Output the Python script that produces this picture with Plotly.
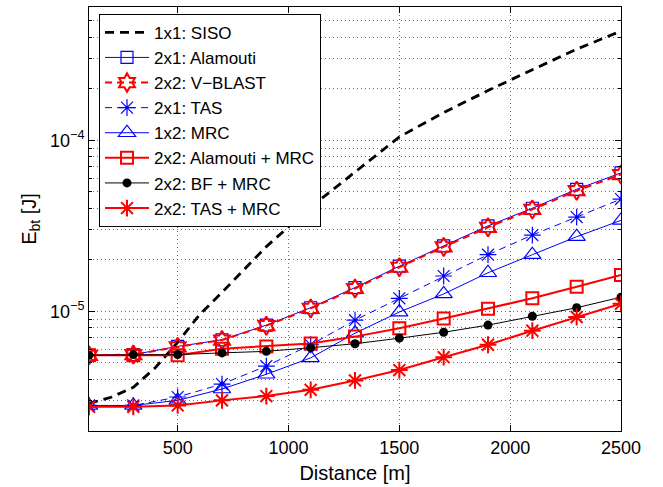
import numpy as np
import plotly.graph_objects as go

# Distance grid of the marked curves [m]
distance = [100, 300, 500, 700, 900, 1100, 1300, 1500, 1700, 1900, 2100, 2300, 2500]

# SISO curve is drawn without markers on its own, denser grid
siso_distance = [100, 200, 300, 400, 500, 600, 700, 900, 1100, 1300, 1500, 1700, 1900, 2100, 2300, 2500]
siso_1x1 = [2.9, 3.15, 3.6, 4.7, 6.6, 9.6, 12.9, 23.9, 40.6, 65.0, 104.5, 145.0, 195.0, 258.0, 340.0, 434.0]

# Energy per bit [uJ] for each scheme
alamouti_2x1 = [5.54, 5.59, 6.24, 6.82, 8.31, 10.5, 13.78, 18.36, 24.13, 31.57, 40.04, 51.67, 64.4]
vblast_2x2 = [5.54, 5.59, 6.20, 6.80, 8.25, 10.4, 13.6, 18.1, 23.8, 31.0, 39.4, 50.7, 63.0]
tas_2x1 = [2.82, 2.82, 3.16, 3.76, 4.79, 6.38, 8.88, 11.92, 16.09, 21.43, 27.92, 35.55, 45.3]
mrc_1x2 = [2.82, 2.82, 3.02, 3.52, 4.29, 5.35, 7.45, 9.91, 12.64, 16.81, 21.43, 27.3, 34.0]
alamouti_mrc_2x2 = [5.54, 5.54, 5.54, 6.05, 6.24, 6.49, 7.12, 7.96, 9.08, 10.36, 11.92, 13.91, 16.3]
bf_mrc_2x2 = [5.54, 5.59, 5.59, 5.72, 5.84, 6.13, 6.47, 6.97, 7.55, 8.31, 9.36, 10.5, 12.1]
tas_mrc_2x2 = [2.77, 2.77, 2.82, 3.02, 3.20, 3.48, 3.95, 4.54, 5.40, 6.38, 7.71, 9.27, 11.07]

x_ticks = [500, 1000, 1500, 2000, 2500]
y_major = [1e-5, 1e-4]
y_major_text = ["10<sup>\u22125</sup>", "10<sup>\u22124</sup>"]

BLUE = "#0000ff"
RED = "#ff0000"
BLACK = "#000000"
FONT = "Liberation Sans, Arial, Helvetica, sans-serif"


def joules(vals):
    return [v * 1e-6 for v in vals]


series = [
    dict(name="1x1: SISO", x=siso_distance, y=siso_1x1, mode="lines",
         line=dict(color=BLACK, width=2.8, dash="9px,6px"), marker=None),
    dict(name="2x1: Alamouti", x=distance, y=alamouti_2x1, mode="lines+markers",
         line=dict(color=BLUE, width=1),
         marker=dict(symbol="square-open", size=12, color=BLUE, line=dict(width=1.2, color=BLUE))),
    dict(name="2x2: V\u2212BLAST", x=distance, y=vblast_2x2, mode="lines+markers",
         line=dict(color=RED, width=2, dash="7px,5px"),
         marker=dict(symbol="hexagram-open", size=14, color=RED, line=dict(width=2, color=RED))),
    dict(name="2x1: TAS", x=distance, y=tas_2x1, mode="lines+markers",
         line=dict(color=BLUE, width=1, dash="7px,5px"),
         marker=dict(symbol="asterisk-open", size=14, color=BLUE, line=dict(width=1.2, color=BLUE))),
    dict(name="1x2: MRC", x=distance, y=mrc_1x2, mode="lines+markers",
         line=dict(color=BLUE, width=1),
         marker=dict(symbol="triangle-up-open", size=15, color=BLUE, line=dict(width=1.2, color=BLUE))),
    dict(name="2x2: Alamouti + MRC", x=distance, y=alamouti_mrc_2x2, mode="lines+markers",
         line=dict(color=RED, width=2),
         marker=dict(symbol="square-open", size=12, color=RED, line=dict(width=2, color=RED))),
    dict(name="2x2: BF + MRC", x=distance, y=bf_mrc_2x2, mode="lines+markers",
         line=dict(color=BLACK, width=1),
         marker=dict(symbol="circle", size=9, color=BLACK)),
    dict(name="2x2: TAS + MRC", x=distance, y=tas_mrc_2x2, mode="lines+markers",
         line=dict(color=RED, width=2),
         marker=dict(symbol="asterisk-open", size=14, color=RED, line=dict(width=2, color=RED))),
]

fig = go.Figure()
for s in series:
    kw = dict(x=s["x"], y=joules(s["y"]), name=s["name"], mode=s["mode"], line=s["line"])
    if s["marker"] is not None:
        kw["marker"] = s["marker"]
    fig.add_trace(go.Scatter(**kw))

minor_vals = [m * 10.0 ** e for e in (-6, -5, -4) for m in range(2, 10) if 2e-6 <= m * 10.0 ** e <= 6e-4]
grid_style = dict(showgrid=True, gridcolor="rgba(60,60,60,0.75)", gridwidth=1, griddash="1px,3px")

fig.update_layout(
    width=663, height=487,
    margin=dict(l=89, r=42, t=6, b=49),
    paper_bgcolor="white", plot_bgcolor="white",
    font=dict(family=FONT, size=18, color="black"),
    showlegend=True,
    legend=dict(
        x=0.0188, y=0.984, xanchor="left", yanchor="top",
        bgcolor="white", bordercolor="black", borderwidth=1,
        font=dict(family=FONT, size=17, color="black"),
        itemwidth=44,
        tracegroupgap=0,
    ),
    xaxis=dict(
        range=[100, 2500], tickmode="array", tickvals=x_ticks,
        ticks="inside", ticklen=6, tickcolor="black",
        showline=True, linecolor="black", linewidth=1, mirror="ticks",
        zeroline=False,
        title=dict(text="Distance [m]", font=dict(size=20), standoff=9),
        tickfont=dict(size=18),
        **grid_style,
    ),
    yaxis=dict(
        type="log", range=[np.log10(2e-6), np.log10(6e-4)],
        tickmode="array", tickvals=y_major, ticktext=y_major_text,
        ticks="inside", ticklen=6, tickcolor="black",
        showline=True, linecolor="black", linewidth=1, mirror="ticks",
        zeroline=False,
        title=dict(text="E<sub>bt</sub> [J]", font=dict(size=20), standoff=8),
        tickfont=dict(size=18),
        minor=dict(tickmode="array", tickvals=minor_vals, ticks="inside", ticklen=3,
                   tickcolor="black", **grid_style),
        **grid_style,
    ),
)

fig.write_html("out.html")
